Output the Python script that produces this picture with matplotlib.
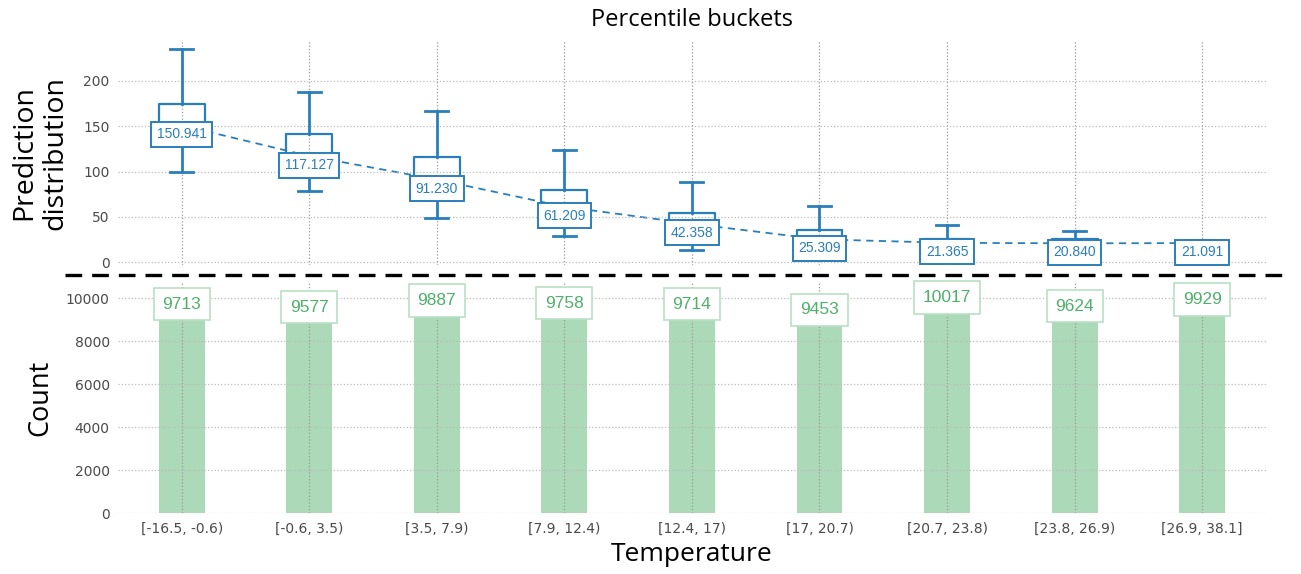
import matplotlib
matplotlib.use("Agg")
import matplotlib.pyplot as plt
from matplotlib.lines import Line2D

buckets = ["[-16.5, -0.6)", "[-0.6, 3.5)", "[3.5, 7.9)", "[7.9, 12.4)", "[12.4, 17)",
           "[17, 20.7)", "[20.7, 23.8)", "[23.8, 26.9)", "[26.9, 38.1]"]
medians = [150.941, 117.127, 91.230, 61.209, 42.358, 25.309, 21.365, 20.840, 21.091]
q1 = [132, 99, 72, 42, 23, 8, 10, 10, 10]
q3 = [174.6, 141, 115.7, 80, 54, 35.7, 26, 26, 23]
whislo = [100, 78.4, 49, 28.4, 14, 4, 4, 4, 4]
whishi = [235, 187.8, 166.9, 124, 88, 61.5, 40.5, 34, 25]
counts = [9713, 9577, 9887, 9758, 9714, 9453, 10017, 9624, 9929]

BLUE = "#2a7fba"
GREEN_BAR = "#acd9b7"
GREEN_TXT = "#4fb06a"
GREEN_EDGE = "#b9e0c3"
TICK_C = "#4a4a4a"

fig = plt.figure(figsize=(13.01, 5.74), dpi=100)
ax1 = fig.add_axes([0.0907, 0.538, 0.8823, 0.392])
ax2 = fig.add_axes([0.0907, 0.106, 0.8823, 0.401])

pos = list(range(len(buckets)))
stats = []
for i in pos:
    stats.append(dict(med=medians[i], q1=q1[i], q3=q3[i], whislo=whislo[i], whishi=whishi[i], fliers=[]))

ax1.bxp(stats, positions=pos, widths=0.36, showfliers=False, patch_artist=False,
        boxprops=dict(color=BLUE, linewidth=1.6),
        whiskerprops=dict(color=BLUE, linewidth=2.0),
        capprops=dict(color=BLUE, linewidth=2.0),
        medianprops=dict(color=BLUE, linewidth=1.6),
        manage_ticks=False, zorder=3)
ax1.plot(pos, medians, linestyle="--", color=BLUE, linewidth=1.3, dashes=(4, 3), zorder=2)
for i in pos:
    ax1.annotate(f"{medians[i]:.3f}", (pos[i], medians[i]), xytext=(0, -6.5), textcoords="offset points",
                 ha="center", va="center", fontsize=10, color=BLUE, family="Liberation Sans",
                 bbox=dict(boxstyle="square,pad=0.4", fc="white", ec=BLUE, lw=1.4), zorder=5)

ax1.set_xlim(-0.5, 8.5)
ax1.set_ylim(-3.3, 245)
ax1.set_yticks([0, 50, 100, 150, 200])
ax1.set_xticks(pos)
ax1.set_xticklabels([])
ax1.set_title("Percentile buckets", fontsize=17, family="Open Sans", pad=10)
ax1.set_ylabel("Prediction\ndistribution", fontsize=20.5, family="Open Sans", labelpad=10,
               linespacing=1.15)

ax2.bar(pos, counts, width=0.36, color=GREEN_BAR, zorder=1)
for i in pos:
    ax2.annotate(f"{counts[i]}", (pos[i], counts[i]), ha="center", va="center", fontsize=12.5,
                 color=GREEN_TXT, family="Liberation Sans",
                 bbox=dict(boxstyle="square,pad=0.5", fc="white", ec=GREEN_EDGE, lw=1.2), zorder=5)
ax2.set_xlim(-0.5, 8.5)
ax2.set_ylim(0, 10700)
ax2.set_yticks([0, 2000, 4000, 6000, 8000, 10000])
ax2.set_xticks(pos)
ax2.set_xticklabels(buckets)
ax2.set_ylabel("Count", fontsize=19.5, family="Open Sans", labelpad=8)
ax2.set_xlabel("Temperature", fontsize=19, family="Open Sans", labelpad=5)

for ax in (ax1, ax2):
    for s in ax.spines.values():
        s.set_visible(False)
    ax.tick_params(length=0, labelsize=10, colors=TICK_C, pad=6)
    ax.grid(axis="y", linestyle=":", color="#bbbbbb", linewidth=0.9, zorder=0)
    ax.grid(axis="x", linestyle=":", color="#999999", linewidth=0.9, zorder=0)
    ax.set_axisbelow(False)

fig.add_artist(Line2D([0.05, 0.988], [0.521, 0.521], transform=fig.transFigure, color="black",
                      linewidth=2.4, linestyle="--", dashes=(5, 3)))

fig.savefig("out.png", dpi=100)
